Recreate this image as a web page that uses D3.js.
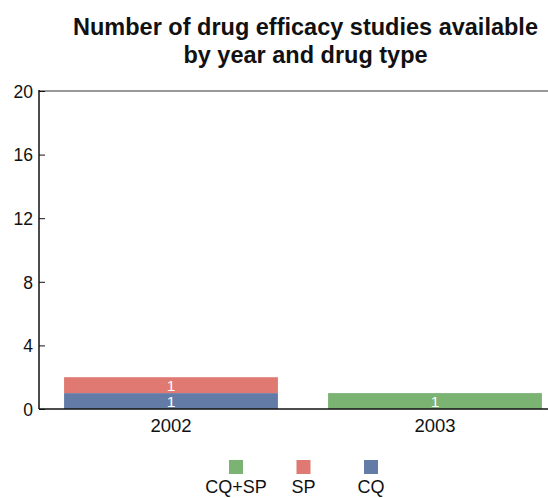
<!DOCTYPE html>
<html><head><meta charset="utf-8">
<script src="https://cdn.jsdelivr.net/npm/d3@7"></script>
<style>body{margin:0;background:#fff}svg{display:block}text{font-family:"Liberation Sans",Arial,sans-serif}</style>
</head><body>
<svg id="c" width="548" height="498"></svg>
<script>
const years = ["2002","2003"];
const seriesNames = ["CQ","SP","CQ+SP"];
const cqValues = [1,0];
const spValues = [1,0];
const cqspValues = [0,1];
const yTicks = [0,4,8,12,16,20];
const colors = {"CQ":"#637ca7","SP":"#e07971","CQ+SP":"#7bb373"};
const legendOrder = ["CQ+SP","SP","CQ"];

const rows = years.map((y,i)=>({year:y,"CQ":cqValues[i],"SP":spValues[i],"CQ+SP":cqspValues[i]}));
const stacked = d3.stack().keys(seriesNames)(rows);

const svg = d3.select("#c");
const m = {l:39,r:567,t:91,b:409};
const x = d3.scaleBand().domain(years).range([m.l,m.r]).paddingInner(0.19).paddingOuter(0.095);
const y = d3.scaleLinear().domain([0,20]).range([m.b,m.t]);

// top border
svg.append("line").attr("x1",m.l).attr("x2",548).attr("y1",y(20)).attr("y2",y(20)).attr("stroke","#777").attr("stroke-width",1.5);

const g = svg.append("g");
stacked.forEach(s=>{
  g.selectAll(null).data(s.filter(d=>d[1]-d[0]>0)).enter().append("rect")
    .attr("x",d=>x(d.data.year)).attr("width",x.bandwidth())
    .attr("y",d=>y(d[1])).attr("height",d=>y(d[0])-y(d[1]))
    .attr("fill",colors[s.key]);
  g.selectAll(null).data(s.filter(d=>d[1]-d[0]>0)).enter().append("text")
    .attr("x",d=>x(d.data.year)+x.bandwidth()/2).attr("y",d=>(y(d[0])+y(d[1]))/2+5.5)
    .attr("text-anchor","middle").attr("fill","#fff").attr("font-size",15.5)
    .text(d=>d[1]-d[0]);
});

// y axis
const ya = svg.append("g").attr("transform",`translate(${m.l},0)`)
  .call(d3.axisRight(y).tickValues(yTicks).tickSize(6).tickFormat(d3.format("d")));
ya.select(".domain").remove();
ya.selectAll("text").attr("x",-6).attr("text-anchor","end").attr("font-size",17.5).attr("fill","#111").attr("dy","0.36em");
ya.selectAll("line").attr("stroke","#111");
svg.append("line").attr("x1",m.l).attr("x2",m.l).attr("y1",y(20)-1).attr("y2",y(0)).attr("stroke","#111").attr("stroke-width",1.5);

// x axis
const xa = svg.append("g").attr("transform",`translate(0,${m.b})`).call(d3.axisBottom(x).tickSize(0));
xa.select(".domain").remove();
xa.selectAll("text").attr("font-size",18.5).attr("fill","#111").attr("y",23).attr("dy",null);
svg.append("line").attr("x1",m.l).attr("x2",548).attr("y1",m.b).attr("y2",m.b).attr("stroke","#111").attr("stroke-width",1.5);

// title
const t = svg.append("text").attr("text-anchor","middle").attr("font-weight","bold").attr("font-size",23.5).attr("fill","#111");
t.append("tspan").attr("x",305.5).attr("y",35).text("Number of drug efficacy studies available");
t.append("tspan").attr("x",305.5).attr("y",63).text("by year and drug type");

// legend
const lx = d3.scalePoint().domain(legendOrder).range([236,371]);
const lg = svg.append("g");
legendOrder.forEach(k=>{
  lg.append("rect").attr("x",lx(k)-7).attr("y",460).attr("width",14).attr("height",14).attr("fill",colors[k]);
  lg.append("text").attr("x",lx(k)).attr("y",493).attr("text-anchor","middle").attr("font-size",18).attr("fill","#111").text(k);
});
</script>
</body></html>
